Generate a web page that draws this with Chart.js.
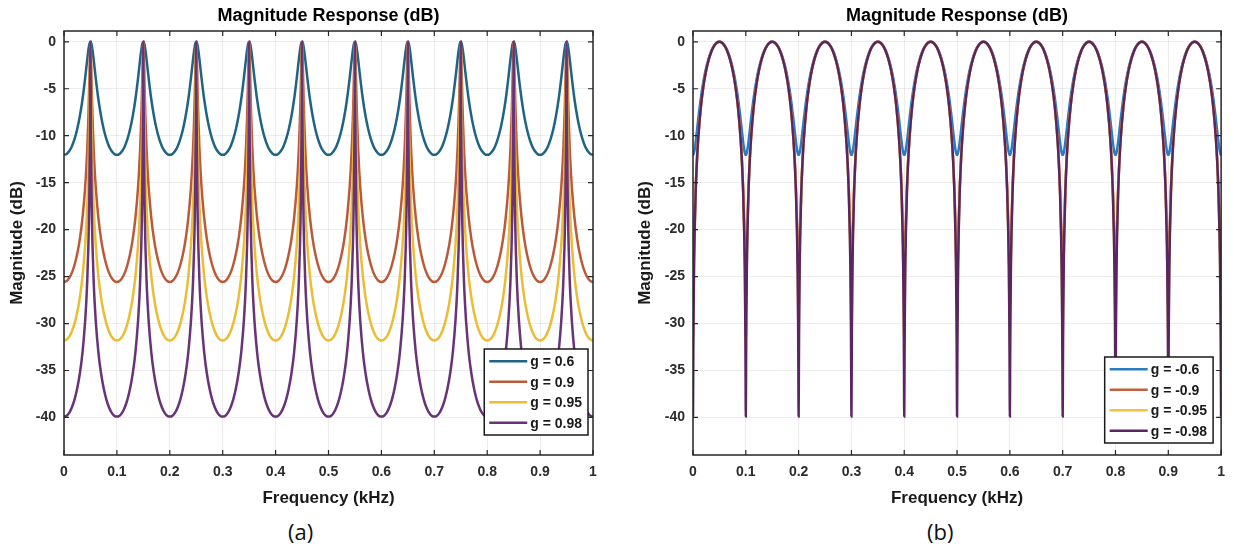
<!DOCTYPE html>
<html>
<head>
<meta charset="utf-8">
<script src="https://cdn.jsdelivr.net/npm/chart.js@4.4.1/dist/chart.umd.min.js"></script>
<style>
  body { margin: 0; background: #fff; width: 1234px; height: 552px; position: relative; overflow: hidden; }
  canvas { position: absolute; top: 0; }
  #chartA { left: 0; }
  #chartB { left: 628px; }
  .caption { position: absolute; top: 516px; font: 22px "Open Sans", "Noto Sans", sans-serif; color: #111; }
</style>
</head>
<body>
<canvas id="chartA" width="610" height="515"></canvas>
<canvas id="chartB" width="606" height="515"></canvas>
<div class="caption" style="left:288px">(a)</div>
<div class="caption" style="left:927px">(b)</div>
<script>
// axis ticks
const xTicks = [0, 0.1, 0.2, 0.3, 0.4, 0.5, 0.6, 0.7, 0.8, 0.9, 1];
const xTickLabels = ["0", "0.1", "0.2", "0.3", "0.4", "0.5", "0.6", "0.7", "0.8", "0.9", "1"];
const yTicks = [0, -5, -10, -15, -20, -25, -30, -35, -40];
const yTickLabels = ["0", "-5", "-10", "-15", "-20", "-25", "-30", "-35", "-40"];

// the responses repeat every 0.1 kHz; each lobe is symmetric about its middle
const lobeStarts = [0, 0.1, 0.2, 0.3, 0.4, 0.5, 0.6, 0.7, 0.8, 0.9];
const lobeWidth = 0.1;

// (a) positive g: dB at offsets (kHz) from lobe start up to the peak
const offsetsA = [0, 0.005, 0.01, 0.015, 0.02, 0.025, 0.03, 0.035, 0.04, 0.042, 0.044, 0.046, 0.047, 0.048, 0.049, 0.0495, 0.05];
const labelsA = ["g = 0.6", "g = 0.9", "g = 0.95", "g = 0.98"];
const magA_06  = [-12.04, -11.94, -11.63, -11.11, -10.34, -9.29, -7.91, -6.12, -3.86, -2.85, -1.84, -0.92, -0.54, -0.25, -0.07, -0.02, 0];
const magA_09  = [-25.58, -25.47, -25.14, -24.58, -23.74, -22.58, -20.98, -18.76, -15.49, -13.67, -11.35, -8.23, -6.22, -3.84, -1.32, -0.37, 0];
const magA_095 = [-31.82, -31.71, -31.39, -30.82, -29.98, -28.81, -27.21, -24.97, -21.65, -19.78, -17.35, -13.96, -11.60, -8.45, -3.97, -1.37, 0];
const magA_098 = [-39.91, -39.81, -39.48, -38.91, -38.07, -36.90, -35.30, -33.06, -29.72, -27.83, -25.38, -21.90, -19.43, -16.00, -10.27, -5.32, 0];

// (b) negative g: dB at offsets from the notch up to the peak
const offsetsB = [0, 0.0005, 0.001, 0.002, 0.003, 0.005, 0.0075, 0.01, 0.015, 0.02, 0.025, 0.03, 0.035, 0.04, 0.045, 0.05];
const labelsB = ["g = -0.6", "g = -0.9", "g = -0.95", "g = -0.98"];
const magB_06  = [-12.04, -12.03, -11.98, -11.79, -11.50, -10.68, -9.45, -8.18, -5.92, -4.13, -2.75, -1.70, -0.93, -0.41, -0.10, 0];
const magB_09  = [-25.58, -25.21, -24.25, -21.74, -19.36, -15.66, -12.43, -10.09, -6.81, -4.59, -3.00, -1.83, -1.00, -0.44, -0.11, 0];
const magB_095 = [-31.82, -30.45, -27.85, -23.37, -20.22, -16.00, -12.59, -10.17, -6.85, -4.61, -3.01, -1.84, -1.00, -0.44, -0.11, 0];
const magB_098 = [-39.91, -34.60, -29.64, -23.93, -20.48, -16.10, -12.63, -10.20, -6.86, -4.62, -3.01, -1.84, -1.00, -0.44, -0.11, 0];

const FONT = '"Liberation Sans", Arial, sans-serif';
Chart.defaults.font.family = FONT;

// rising half, then the mirrored falling half, for every lobe
function tileLobes(offsets, half) {
  const pts = [];
  lobeStarts.forEach((s, k) => {
    offsets.forEach((o, i) => pts.push({ x: s + o, y: half[i] }));
    for (let i = offsets.length - 2; i >= 0; i--) {
      if (i === 0 && k < lobeStarts.length - 1) continue; // next lobe starts here
      pts.push({ x: s + lobeWidth - offsets[i], y: half[i] });
    }
  });
  return pts;
}

// box, inward ticks, title and legend drawn the way the MATLAB figure has them
const framePlugin = {
  id: "frame",
  afterDraw(chart, args, opts) {
    const { ctx, chartArea: a, scales } = chart;
    ctx.save();

    ctx.fillStyle = "#000";
    ctx.font = "bold 18px " + FONT;
    ctx.textAlign = "center";
    ctx.textBaseline = "middle";
    ctx.fillText(opts.title, (a.left + a.right) / 2, 16);

    ctx.strokeStyle = "#262626";
    ctx.lineWidth = 1.5;
    ctx.strokeRect(a.left, a.top, a.right - a.left, a.bottom - a.top);
    ctx.lineWidth = 1.2;
    ctx.beginPath();
    scales.x.ticks.forEach(t => {
      const x = scales.x.getPixelForValue(t.value);
      ctx.moveTo(x, a.bottom); ctx.lineTo(x, a.bottom - 5);
      ctx.moveTo(x, a.top); ctx.lineTo(x, a.top + 5);
    });
    scales.y.ticks.forEach(t => {
      const y = scales.y.getPixelForValue(t.value);
      ctx.moveTo(a.left, y); ctx.lineTo(a.left + 5, y);
      ctx.moveTo(a.right, y); ctx.lineTo(a.right - 5, y);
    });
    ctx.stroke();

    // legend box in the lower right corner
    const sets = chart.data.datasets;
    ctx.font = "bold 14px " + FONT;
    const textW = Math.max(...sets.map(d => ctx.measureText(d.label).width));
    const rowH = 20.5;
    const boxW = 5 + 38 + 3 + textW + 6;
    const boxH = sets.length * rowH + 4;
    const x0 = a.right - opts.legendRight - boxW;
    const y0 = a.bottom - opts.legendBottom - boxH;
    ctx.fillStyle = "#fff";
    ctx.fillRect(x0, y0, boxW, boxH);
    ctx.strokeStyle = "#1a1a1a";
    ctx.lineWidth = 1.5;
    ctx.strokeRect(x0, y0, boxW, boxH);
    ctx.textAlign = "left";
    sets.forEach((d, i) => {
      const y = y0 + 2 + rowH * (i + 0.5);
      ctx.strokeStyle = d.borderColor;
      ctx.lineWidth = 2.5;
      ctx.beginPath();
      ctx.moveTo(x0 + 5, y); ctx.lineTo(x0 + 43, y);
      ctx.stroke();
      ctx.fillStyle = "#1a1a1a";
      ctx.fillText(d.label, x0 + 46, y + 1);
    });
    ctx.restore();
  }
};

function makeChart(id, labels, offsets, series, colors, yAxisWidth, padRight, legendRight, legendBottom) {
  const datasets = series.map((half, i) => ({
    label: labels[i],
    data: tileLobes(offsets, half),
    borderColor: colors[i],
    borderWidth: 2.5,
    pointRadius: 0,
    cubicInterpolationMode: "monotone",
    order: series.length - i
  }));
  return new Chart(document.getElementById(id), {
    type: "line",
    data: { datasets },
    plugins: [framePlugin],
    options: {
      responsive: false,
      animation: false,
      layout: { padding: { top: 31, right: padRight, bottom: 0, left: 0 } },
      plugins: {
        legend: { display: false },
        tooltip: { enabled: false },
        frame: { title: "Magnitude Response (dB)", legendRight, legendBottom }
      },
      scales: {
        x: {
          type: "linear", min: 0, max: 1,
          afterBuildTicks: s => { s.ticks = xTicks.map(v => ({ value: v })); },
          afterFit: s => { s.height = 60; },
          ticks: {
            padding: 9, color: "#2b2b2b", font: { size: 14, weight: "bold" },
            callback: (v, i) => xTickLabels[i]
          },
          grid: { color: "rgba(0,0,0,0.07)", drawTicks: false },
          border: { display: false },
          title: { display: true, text: "Frequency (kHz)", color: "#1a1a1a", font: { size: 17, weight: "bold" }, padding: { top: 0, bottom: 6 } }
        },
        y: {
          type: "linear", min: -44, max: 1.15,
          afterBuildTicks: s => { s.ticks = yTicks.map(v => ({ value: v })); },
          afterFit: s => { s.width = yAxisWidth; },
          ticks: {
            padding: 8, color: "#2b2b2b", font: { size: 14, weight: "bold" },
            callback: (v, i) => yTickLabels[i]
          },
          grid: { color: "rgba(0,0,0,0.07)", drawTicks: false },
          border: { display: false },
          title: { display: true, text: "Magnitude (dB)", color: "#1a1a1a", font: { size: 17, weight: "bold" }, padding: { top: 7, bottom: 0 } }
        }
      }
    }
  });
}

makeChart("chartA", labelsA, offsetsA, [magA_06, magA_09, magA_095, magA_098],
  ["#1f6484", "#bb5a38", "#ebbd35", "#693378"], 64, 17, 5, 20);
makeChart("chartB", labelsB, offsetsB, [magB_06, magB_09, magB_095, magB_098],
  ["#2a7bc0", "#c0603c", "#f0c23e", "#5a2560"], 65, 10, 8, 12);
</script>
</body>
</html>
